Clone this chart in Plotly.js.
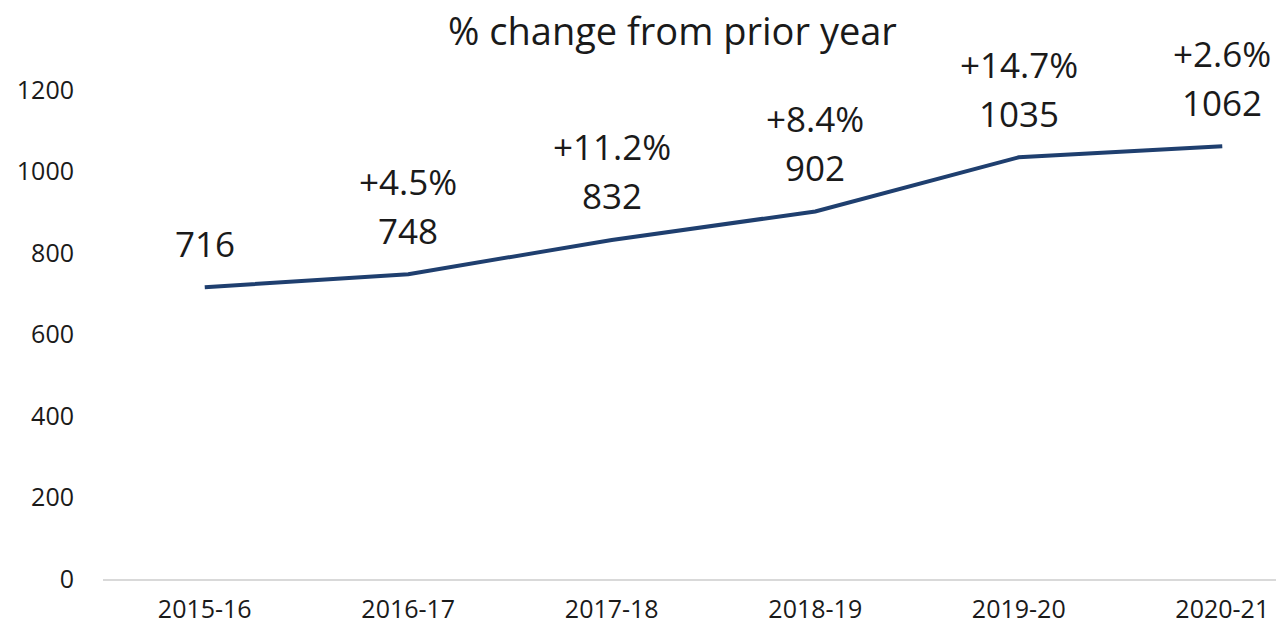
<!DOCTYPE html>
<html>
<head>
<meta charset="utf-8">
<script src="https://cdn.plot.ly/plotly-3.0.1.min.js"></script>
<style>html,body{margin:0;padding:0;background:#fff}#chart{width:1276px;height:633px}</style>
</head>
<body>
<div id="chart"></div>
<script>
const categories = ["2015-16", "2016-17", "2017-18", "2018-19", "2019-20", "2020-21"];
const values = [716, 748, 832, 902, 1035, 1062];
const pctLabels = ["", "+4.5%", "+11.2%", "+8.4%", "+14.7%", "+2.6%"];
const yTicks = [0, 200, 400, 600, 800, 1000, 1200];

const labelFont = {family: "Open Sans, sans-serif", size: 35, color: "#1a1a1a"};
const annotations = [];
categories.forEach((c, i) => {
  annotations.push({x: c, y: values[i], xref: "x", yref: "y", text: String(values[i]),
    showarrow: false, yshift: 44, font: labelFont, yanchor: "middle"});
  if (pctLabels[i]) annotations.push({x: c, y: values[i], xref: "x", yref: "y", text: pctLabels[i],
    showarrow: false, yshift: 93, font: labelFont, yanchor: "middle"});
});

Plotly.newPlot("chart", [{
  x: categories, y: values, type: "scatter", mode: "lines",
  line: {color: "#1f3f6f", width: 4}, hoverinfo: "skip"
}], {
  width: 1276, height: 633,
  margin: {l: 103, r: 0, t: 90, b: 54},
  paper_bgcolor: "#fff", plot_bgcolor: "#fff",
  showlegend: false,
  title: {text: "% change from prior year", x: 0.527, xanchor: "center", y: 0.95, yanchor: "middle",
    font: {family: "Open Sans, sans-serif", size: 38, color: "#1a1a1a"}},
  xaxis: {type: "category", range: [-0.5, 5.264], showgrid: false, zeroline: false,
    showline: true, linecolor: "#d9d9d9", linewidth: 1.5, ticks: "", ticklabelstandoff: 7,
    tickfont: {family: "Open Sans, sans-serif", size: 25, color: "#1a1a1a"}},
  yaxis: {range: [0, 1200], tickvals: yTicks, ticktext: yTicks.map(String), showgrid: false,
    zeroline: false, showline: false, ticks: "", ticklabelstandoff: 28,
    tickfont: {family: "Open Sans, sans-serif", size: 25, color: "#1a1a1a"}},
  annotations: annotations
}, {staticPlot: true});
</script>
</body>
</html>
